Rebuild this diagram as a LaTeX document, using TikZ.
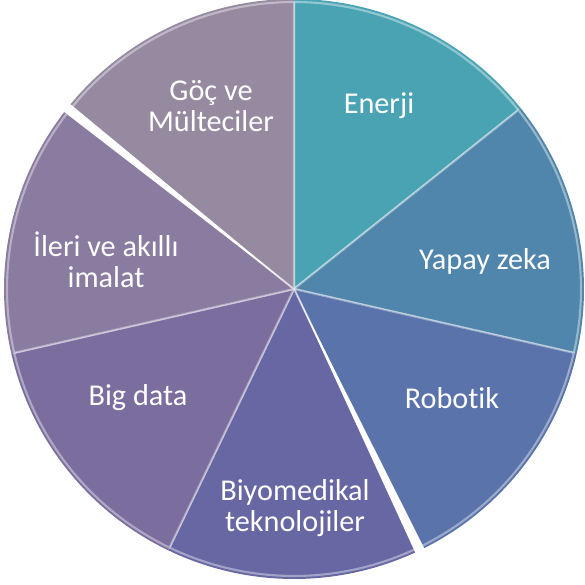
\documentclass[tikz,border=0pt]{standalone}
\usepackage{fontspec}
\setmainfont[Ligatures=CommonOff]{Carlito}
\definecolor{enerji}{HTML}{4AA3B3}
\definecolor{yapay}{HTML}{5086AB}
\definecolor{robotik}{HTML}{5A73AA}
\definecolor{biyo}{HTML}{6667A3}
\definecolor{bigdata}{HTML}{7B6E9E}
\definecolor{ileri}{HTML}{8A7BA0}
\definecolor{goc}{HTML}{968AA0}
\tikzset{
  slice/.style={draw=white,draw opacity=.4,line width=1.2pt,line join=round},
  gap/.style={fill=white},
  label/.style={text=white,align=center,font=\fontsize{17.2}{17.8}\selectfont}
}
\begin{document}
\begin{tikzpicture}[x=0.2mm,y=0.2mm]
\useasboundingbox (0,0) rectangle (585,585);
\coordinate (c) at (294,296);

% slices, clockwise from the top
\foreach \col [count=\i from 0] in {enerji,yapay,robotik,biyo,bigdata,ileri,goc}
{
    \pgfmathsetmacro\a{90-\i*360/7}
    \pgfmathsetmacro\b{90-(\i+1)*360/7}
    \fill[\col] (c)--++(\a:290) arc[start angle=\a,end angle=\b,radius=290]--cycle;
    \draw[slice] (c)--++(\a:287) arc[start angle=\a,end angle=\b,radius=287]--cycle;
}

% white gaps
\foreach \g in {141.43,-64.29}
{
    \fill[gap] (c)--++(\g-1:292)--++(\g+90:10)--cycle;
}

\node[label] (goc-l) at (211,479) {Göç ve\\Mülteciler};
\node[label] (enerji-l) at (379,479) {Enerji};
\node[label] (yapay-l) at (485,324) {Yapay zeka};
\node[label] (robotik-l) at (452,187) {Robotik};
\node[label] (biyo-l) at (295,77) {Biyomedikal\\teknolojiler};
\node[label] (bigdata-l) at (138,187) {Big data};
\node[label] (ileri-l) at (106,325) {İleri ve akıllı\\imalat};
\end{tikzpicture}
\end{document}
